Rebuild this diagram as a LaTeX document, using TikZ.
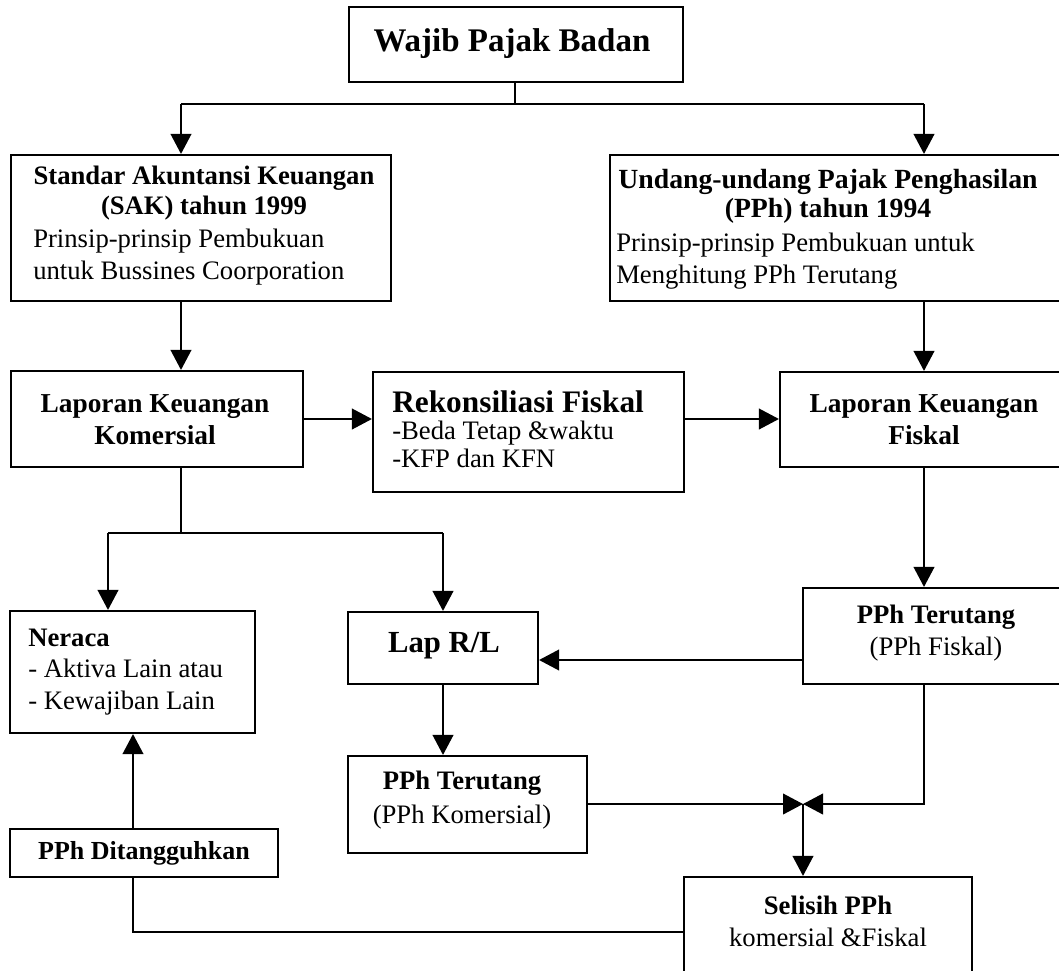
\documentclass[tikz,border=0pt]{standalone}
\usepackage{fontspec}
\setmainfont{Liberation Serif}
\usetikzlibrary{arrows.meta,fit,calc}
\begin{document}
\begin{tikzpicture}[x=0.75pt,y=-0.75pt,
 box/.style={draw, line width=1.6pt, inner sep=0pt, rectangle},
 con/.style={line width=1.4pt},
 arr/.style={line width=1.4pt, -{Triangle[length=15pt,width=15.5pt]}},
 tx/.style={inner sep=0pt, font=\fontsize{20}{24}\selectfont},
 bx/.style={inner sep=0pt, font=\fontsize{20.5}{24}\selectfont\bfseries},
]
\useasboundingbox (0,0) rectangle (1059,970);
\clip (0,0) rectangle (1059,970);
\fill[white] (0,0) rectangle (1059,970);

% boxes
\node[box, fit={(349,7) (683,82)}] (wajib) {};
\node[inner sep=0pt, font=\fontsize{24.75}{28}\selectfont\bfseries] (wajibt) at (512,44) {Wajib Pajak Badan};

\node[box, fit={(11,155) (391,301)}] (sak) {};
\node[bx, align=center, font=\fontsize{20}{22.5}\selectfont\bfseries] (sakt1) at (204,193) {Standar Akuntansi Keuangan\\(SAK) tahun 1999};
\node[tx, align=left, anchor=west] (sakt2) at (33,257) {Prinsip-prinsip Pembukuan\\untuk Bussines Coorporation};

\node[box, fit={(610,155) (1070,301)}] (uu) {};
\node[bx, align=center, font=\fontsize{20.8}{22}\selectfont\bfseries] (uut1) at (828,196) {Undang-undang Pajak Penghasilan\\(PPh) tahun 1994};
\node[tx, align=left, anchor=west] (uut2) at (616,261) {Prinsip-prinsip Pembukuan untuk\\Menghitung PPh Terutang};

\node[box, fit={(11,371) (303,467)}] (lkk) {};
\node[bx, align=center] (lkkt) at (155,420) {Laporan Keuangan\\Komersial};

\node[box, fit={(373,372) (684,492)}] (rek) {};
\node[inner sep=0pt, align=left, anchor=west, font=\fontsize{20}{20.6}\selectfont] (rekt) at (392,429) {{\fontsize{23.5}{20.6}\selectfont\bfseries Rekonsiliasi Fiskal}\\-Beda Tetap \&waktu\\-KFP dan KFN};

\node[box, fit={(780,372) (1068,467)}] (lkf) {};
\node[bx, align=center] (lkft) at (924,420) {Laporan Keuangan\\Fiskal};

\node[box, fit={(10,611) (255,733)}] (neraca) {};
\node[inner sep=0pt, align=left, anchor=west, font=\fontsize{20}{23.6}\selectfont] (nert) at (28,672) {\textbf{Neraca}\\- Aktiva Lain atau\\- Kewajiban Lain};

\node[box, fit={(348,612) (538,684)}] (laprl) {};
\node[inner sep=0pt, font=\fontsize{23}{27}\selectfont\bfseries] (laprlt) at (444,646) {Lap R/L};

\node[box, fit={(803,588) (1068,684)}] (pphf) {};
\node[tx, align=center] (pphft) at (936,633) {\textbf{PPh Terutang}\\(PPh Fiskal)};

\node[box, fit={(348,756) (587,853)}] (pphk) {};
\node[tx, align=center, font=\fontsize{20}{25.5}\selectfont] (pphkt) at (462,800) {\textbf{PPh Terutang}\\(PPh Komersial)};

\node[box, fit={(10,829) (278,877)}] (ditang) {};
\node[inner sep=0pt, font=\fontsize{19.5}{24}\selectfont\bfseries] (ditangt) at (144,853) {PPh Ditangguhkan};

\node[box, fit={(684,877) (972,1000)}] (selisih) {};
\node[tx, align=center] (selt) at (828,921) {\textbf{Selisih PPh}\\komersial \&Fiskal};

% connectors
\coordinate (jw) at (515,104);
\coordinate (jl) at (181,104);
\coordinate (jr) at (924,104);
\draw[con] (wajib.south -| jw) -- (jw);
\draw[con] (jl) -- (jr);
\draw[arr] (jl) -- (jl |- sak.north);
\draw[arr] (jr) -- (jr |- uu.north);
\draw[arr] (jl |- sak.south) -- (jl |- lkk.north);
\draw[arr] (jr |- uu.south) -- (jr |- lkf.north);
\coordinate (yh) at (0,419);
\draw[arr] (lkk.east |- yh) -- (rek.west |- yh);
\draw[arr] (rek.east |- yh) -- (lkf.west |- yh);
\draw[arr] (jr |- lkf.south) -- (jr |- pphf.north);
\coordinate (sl) at (108,533);
\coordinate (sr) at (443,533);
\draw[con] (jl |- lkk.south) -- (jl |- sl);
\draw[con] (sl) -- (sr);
\draw[arr] (sl) -- (sl |- neraca.north);
\draw[arr] (sr) -- (sr |- laprl.north);
\coordinate (yf) at (0,660);
\draw[arr] (pphf.west |- yf) -- (laprl.east |- yf);
\draw[arr] (sr |- laprl.south) -- (sr |- pphk.north);
\coordinate (bow) at (803,804);
\draw[arr] (pphk.east |- bow) -- (bow);
\draw[arr] (jr |- pphf.south) -- (jr |- bow) -- (bow);
\draw[arr] (bow) -- (bow |- selisih.north);
\coordinate (xd) at (133,932);
\draw[arr] (ditang.north -| xd) -- (neraca.south -| xd);
\draw[con] (ditang.south -| xd) -- (xd) -- (selisih.west |- xd);
\end{tikzpicture}
\end{document}
